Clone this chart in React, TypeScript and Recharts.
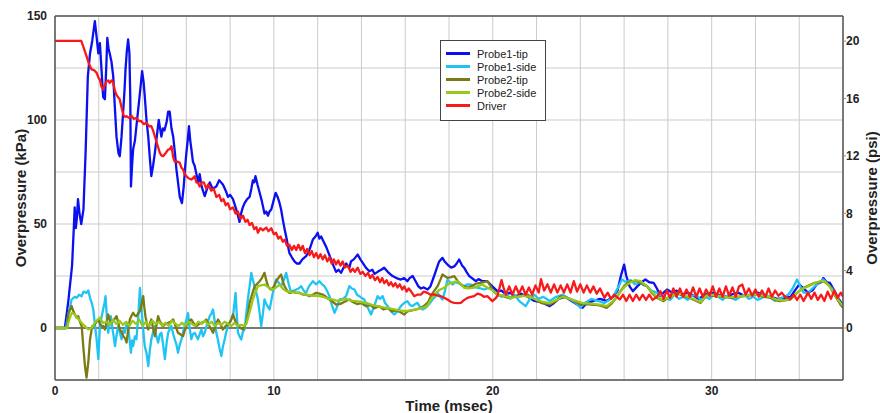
import React from "react";
import {
  LineChart,
  Line,
  XAxis,
  YAxis,
  CartesianGrid,
  ReferenceLine,
} from "recharts";

// 1 psi in kPa, used to line up the right-hand axis with the left one
const KPA_PER_PSI = 6.895;

const timeTicks = [0, 2, 4, 6, 8, 10, 12, 14, 16, 18, 20, 22, 24, 26, 28, 30, 32, 34, 36];
const timeLabels = [0, 10, 20, 30];
const kpaTicks = [-25, 0, 25, 50, 75, 100, 125, 150];
const kpaLabels = [0, 50, 100, 150];
const psiTicks = [0, 4, 8, 12, 16, 20];

// [time msec, overpressure kPa]
const probe1Tip: [number, number][] = [
  [0, 0], [0.45, 0], [0.55, 8], [0.62, 14], [0.7, 22], [0.78, 30], [0.85, 46], [0.9, 58], [0.95, 48],
  [1.0, 53], [1.05, 62], [1.12, 55], [1.2, 50], [1.3, 57], [1.4, 85], [1.5, 121], [1.6, 132], [1.7, 138],
  [1.82, 147.5], [1.9, 140], [1.98, 132], [2.05, 137], [2.12, 125], [2.2, 111], [2.28, 110], [2.34, 125],
  [2.39, 139.5], [2.45, 134], [2.5, 132], [2.58, 128], [2.66, 121], [2.74, 105], [2.81, 92], [2.9, 84],
  [2.96, 82.6], [3.04, 92], [3.12, 105], [3.18, 115], [3.22, 124], [3.28, 133], [3.34, 138.7], [3.4, 132],
  [3.44, 110], [3.47, 68], [3.52, 78], [3.57, 86], [3.65, 90], [3.72, 97], [3.8, 105], [3.9, 115],
  [3.98, 123.5], [4.05, 118], [4.1, 111.5], [4.18, 100], [4.26, 92], [4.33, 82], [4.4, 73], [4.48, 78],
  [4.56, 84], [4.65, 92], [4.74, 100], [4.8, 96], [4.86, 92], [4.93, 96], [5.0, 95], [5.1, 99], [5.17, 104],
  [5.24, 104], [5.32, 96], [5.4, 92], [5.48, 84], [5.55, 76], [5.62, 70], [5.7, 63], [5.8, 60], [5.88, 68],
  [5.95, 78], [6.0, 84], [6.06, 90], [6.12, 97], [6.18, 90], [6.23, 86], [6.3, 80], [6.38, 78], [6.46, 74],
  [6.55, 70], [6.61, 74], [6.7, 68], [6.84, 63.4], [6.95, 67], [7.07, 70], [7.2, 67], [7.37, 68], [7.5, 71],
  [7.67, 69], [7.8, 66], [7.9, 63], [8.0, 64], [8.13, 62], [8.28, 57], [8.36, 54], [8.43, 51], [8.5, 55],
  [8.58, 58], [8.66, 60], [8.78, 62], [8.89, 63], [8.97, 67], [9.04, 71], [9.1, 70], [9.16, 73], [9.25, 69],
  [9.35, 65], [9.45, 61], [9.57, 55], [9.65, 56], [9.73, 54], [9.8, 56], [9.88, 57], [9.98, 61], [10.08, 65],
  [10.17, 63], [10.26, 60], [10.33, 57], [10.41, 52], [10.5, 47], [10.59, 42.5], [10.65, 39], [10.71, 36],
  [10.82, 34], [10.94, 32], [11.05, 31], [11.17, 31], [11.3, 33], [11.47, 34.5], [11.6, 37], [11.7, 40],
  [11.78, 42.5], [11.9, 44], [12.0, 45.8], [12.08, 43], [12.16, 44], [12.25, 42], [12.39, 39], [12.5, 36],
  [12.61, 33], [12.72, 30], [12.84, 27], [12.95, 28], [13.07, 26.5], [13.18, 29], [13.3, 31], [13.45, 29],
  [13.52, 32], [13.65, 33], [13.83, 35.3], [13.95, 33], [14.06, 31.3], [14.2, 29], [14.36, 27.3], [14.5, 28],
  [14.6, 26], [14.74, 27], [14.9, 28], [15.04, 29], [15.2, 27], [15.3, 26], [15.42, 25], [15.6, 24],
  [15.8, 23.3], [15.95, 24], [16.1, 22.5], [16.2, 24], [16.34, 25], [16.5, 22], [16.6, 20], [16.72, 19],
  [16.85, 19.5], [17.02, 18.5], [17.15, 20], [17.32, 25], [17.45, 29], [17.55, 32], [17.7, 33.7], [17.8, 32],
  [17.93, 30.5], [18.1, 29], [18.24, 29.6], [18.35, 31], [18.46, 32.9], [18.6, 30], [18.69, 29], [18.8, 27],
  [18.92, 25], [19.05, 24], [19.22, 22.5], [19.35, 23.5], [19.53, 22.5], [19.75, 22.5], [19.98, 20],
  [20.21, 17.7], [20.4, 18], [20.6, 16], [20.8, 17], [21.0, 15], [21.3, 16.5], [21.6, 15], [21.9, 13],
  [22.2, 12.5], [22.6, 10.5], [22.8, 12], [23.0, 14], [23.3, 15], [23.6, 13], [23.9, 11], [24.1, 9.7],
  [24.3, 12], [24.6, 13], [24.9, 14], [25.2, 13], [25.5, 15], [25.7, 18], [25.85, 25], [26.0, 30.5],
  [26.1, 25], [26.25, 20], [26.4, 17.7], [26.6, 20], [26.8, 22], [26.97, 23.3], [27.15, 22], [27.35, 21.7],
  [27.5, 19], [27.66, 15.3], [27.8, 17], [27.96, 18.5], [28.2, 17], [28.4, 18], [28.6, 16], [28.9, 17],
  [29.1, 16], [29.4, 14], [29.7, 16], [30.0, 17], [30.3, 16], [30.6, 15], [30.9, 16], [31.2, 17],
  [31.5, 15.5], [31.8, 16], [32.1, 17], [32.4, 15.5], [32.7, 15], [33.0, 14], [33.3, 14.5], [33.6, 15],
  [33.8, 18], [34.0, 21], [34.2, 19], [34.4, 17], [34.6, 18], [34.8, 21], [35.0, 22], [35.1, 24],
  [35.25, 22], [35.4, 21.7], [35.6, 18], [35.8, 14], [36, 11],
];

const probe1Side: [number, number][] = [
  [0, 0], [0.5, 0], [0.6, 6], [0.76, 13.7], [0.9, 15], [0.99, 14.5], [1.1, 16], [1.22, 15.3], [1.3, 17.5],
  [1.44, 16.9], [1.52, 18], [1.6, 14.5], [1.68, 12], [1.75, 8.9], [1.82, 2], [1.9, -5.4], [1.98, -15],
  [2.05, 1], [2.12, 5], [2.2, 8.9], [2.26, 12], [2.31, 15.3], [2.37, 5], [2.43, -2.3], [2.5, 2], [2.55, 5.7],
  [2.62, 0], [2.68, -4], [2.74, -8.7], [2.82, -3], [2.89, 0.9], [2.96, -2], [3.04, -5.4], [3.12, -1],
  [3.19, -2.3], [3.27, 2], [3.34, 0.9], [3.4, -5], [3.47, -11.9], [3.52, -6], [3.57, -8.7], [3.65, -4],
  [3.72, -5.4], [3.8, 5], [3.88, 19.3], [3.93, 12], [3.98, 5.7], [4.04, -2], [4.1, -8.7], [4.18, -12],
  [4.26, -18.3], [4.33, -11], [4.4, -5.4], [4.48, -2], [4.56, 0.9], [4.63, -4], [4.71, -7], [4.79, -3],
  [4.86, -2.3], [4.94, -8], [5.02, -15], [5.1, -7], [5.17, -2.3], [5.25, -0.5], [5.32, 0.9], [5.4, -3],
  [5.47, -5.4], [5.55, -8], [5.62, -11.9], [5.7, -8], [5.78, -5.4], [5.85, -2], [5.93, 0.9], [6.0, 4],
  [6.08, 7.2], [6.15, 0], [6.23, -5.4], [6.3, -3], [6.38, -2.3], [6.46, -4], [6.53, -5.4], [6.61, -3],
  [6.69, -0.7], [6.76, -4], [6.84, -2.3], [6.95, 2], [7.07, 5.7], [7.15, 7], [7.22, 8.9], [7.3, 3],
  [7.37, -2.3], [7.45, -6], [7.52, -10], [7.6, -13.5], [7.67, -9], [7.75, -5.5], [7.82, -2], [7.9, 0.9],
  [8.0, 3], [8.13, 5.7], [8.19, 11], [8.25, 16.9], [8.3, 7], [8.36, -2.3], [8.43, -4], [8.51, -5.5],
  [8.58, -2], [8.66, -0.7], [8.73, 6], [8.81, 13.7], [8.89, 20], [8.97, 26.5], [9.04, 23], [9.12, 20.1],
  [9.2, 17], [9.27, 13.7], [9.35, 7], [9.42, 0.9], [9.5, 7], [9.57, 13.7], [9.68, 11], [9.8, 8.9], [9.88, 13],
  [9.95, 16.9], [10.03, 20], [10.1, 23.3], [10.2, 22], [10.33, 20.1], [10.45, 23], [10.56, 26.5], [10.68, 21],
  [10.79, 16.9], [10.9, 18], [11.02, 18.5], [11.13, 19], [11.25, 20.1], [11.36, 18], [11.47, 16.9], [11.6, 20],
  [11.78, 22.5], [11.93, 21], [12.08, 22.5], [12.2, 21], [12.31, 20.1], [12.42, 18], [12.54, 15.3], [12.65, 11],
  [12.77, 7.3], [12.88, 10], [13.0, 13.7], [13.15, 14], [13.3, 15.3], [13.38, 18], [13.45, 20.1], [13.56, 19],
  [13.68, 18.5], [13.8, 16], [13.9, 15.3], [14.0, 14.5], [14.13, 13.7], [14.28, 10], [14.44, 6.5], [14.6, 11],
  [14.74, 15.3], [14.85, 14], [14.97, 15.3], [15.08, 12], [15.2, 10.5], [15.35, 8], [15.5, 6.5], [15.65, 8],
  [15.8, 10.5], [15.95, 12], [16.1, 12.9], [16.22, 11], [16.34, 10.5], [16.45, 11.5], [16.56, 12.1], [16.68, 10],
  [16.79, 8.9], [16.9, 9.5], [17.02, 10.5], [17.13, 12], [17.25, 13.7], [17.37, 15], [17.48, 16.9], [17.6, 15],
  [17.7, 13.7], [17.82, 18], [17.93, 23.3], [18.05, 22], [18.16, 20.9], [18.28, 22], [18.39, 21.7], [18.54, 21],
  [18.69, 20.1], [18.84, 21], [19.0, 20.9], [19.15, 20], [19.3, 19.3], [19.45, 19], [19.6, 18.5], [19.75, 19],
  [19.9, 19.3], [20.05, 17.5], [20.2, 16.1], [20.4, 15], [20.6, 17], [20.8, 14], [21.0, 16], [21.2, 13],
  [21.5, 10.5], [21.7, 14], [21.9, 16], [22.1, 14], [22.3, 15], [22.6, 13], [22.9, 15], [23.2, 16], [23.5, 14],
  [23.8, 12], [24.0, 9.7], [24.2, 12], [24.5, 14], [24.8, 13], [25.1, 12], [25.4, 14], [25.6, 17], [25.75, 20],
  [25.9, 23.3], [26.1, 22], [26.3, 23], [26.5, 21], [26.7, 22], [26.9, 20.5], [27.05, 20.1], [27.25, 18],
  [27.5, 16.9], [27.7, 15.5], [27.9, 14.5], [28.1, 13.5], [28.3, 16], [28.5, 14], [28.7, 15], [28.9, 13.5],
  [29.1, 15.5], [29.3, 16], [29.5, 13.5], [29.7, 15], [29.9, 14], [30.1, 16], [30.3, 15], [30.5, 13.5],
  [30.7, 15.5], [30.9, 14.5], [31.1, 13.5], [31.3, 15], [31.5, 16], [31.7, 14], [31.9, 15], [32.1, 13.5],
  [32.3, 14.5], [32.5, 16], [32.7, 14.5], [32.9, 13], [33.1, 14], [33.3, 15], [33.5, 16], [33.7, 19],
  [33.9, 23.3], [34.05, 20], [34.2, 17], [34.4, 16.9], [34.6, 19], [34.8, 21], [35.0, 22.5], [35.1, 23.3],
  [35.3, 21], [35.5, 19], [35.7, 15], [35.9, 11], [36, 10],
];

const probe2Tip: [number, number][] = [
  [0, 0], [0.55, 0], [0.61, 7.2], [0.7, 9], [0.76, 10.5], [0.84, 8], [0.91, 6.5], [0.98, 5], [1.06, 5.7],
  [1.14, 3], [1.22, 0.9], [1.29, -8.7], [1.37, -18.3], [1.44, -23.9], [1.52, -16.7], [1.6, -5.4], [1.7, 0.9],
  [1.82, 1.7], [1.9, 3], [1.98, 4.1], [2.05, 2], [2.13, 0.9], [2.2, 1], [2.28, -0.7], [2.36, 3], [2.43, 6.5],
  [2.5, 4], [2.58, 2.5], [2.7, 4], [2.81, 5.7], [2.88, 3], [2.96, -0.7], [3.04, -2], [3.12, -3.9], [3.2, -5],
  [3.27, -7], [3.34, -1], [3.42, 4.1], [3.5, 6], [3.57, 7.3], [3.65, 6], [3.72, 5.7], [3.8, 7], [3.88, 8.1],
  [3.95, 11], [4.03, 15.3], [4.08, 10], [4.13, 5.7], [4.2, 2], [4.26, -0.7], [4.33, 2], [4.4, 4.1], [4.48, 0],
  [4.56, -3.9], [4.63, 1], [4.71, 5.7], [4.8, 3], [4.94, 0.9], [5.05, 2], [5.17, 2.5], [5.28, 3], [5.4, 4.1],
  [5.5, 1], [5.62, -2.3], [5.72, -3], [5.85, -3.9], [5.93, -1], [6.0, 0.9], [6.1, 3], [6.23, 4.1], [6.35, 2],
  [6.46, 0.9], [6.58, 2], [6.69, 2.5], [6.8, 3], [6.91, 4.1], [7.05, 1], [7.22, -2.3], [7.33, 1], [7.45, 4.1],
  [7.55, 2], [7.67, -0.7], [7.8, 1], [7.98, 2.5], [8.05, 4], [8.13, 6.5], [8.25, 3], [8.36, 0.9], [8.48, 0],
  [8.59, -0.7], [8.66, 1], [8.74, 2.5], [8.82, 7], [8.89, 12.1], [9.0, 16], [9.12, 20.1], [9.22, 21],
  [9.35, 22.5], [9.45, 24], [9.57, 26.5], [9.65, 23], [9.73, 20.1], [9.8, 19], [9.88, 18.5], [10.0, 20],
  [10.1, 22.5], [10.2, 24], [10.33, 25.7], [10.42, 22], [10.49, 20.1], [10.6, 18], [10.71, 16.9], [10.85, 17.5],
  [11.02, 16.9], [11.17, 17], [11.32, 16.1], [11.47, 16], [11.63, 15.3], [11.78, 16], [11.93, 16.9],
  [12.08, 16.5], [12.23, 16.1], [12.38, 15], [12.54, 13.7], [12.7, 12.5], [12.84, 11.3], [13.0, 11.5],
  [13.14, 12.1], [13.3, 13], [13.45, 13.7], [13.6, 12.5], [13.8, 11.5], [14.0, 12], [14.2, 10.5], [14.4, 11],
  [14.6, 9.5], [14.8, 10.5], [15.0, 9], [15.2, 9.5], [15.4, 8], [15.6, 8.5], [15.8, 7.5], [15.96, 6.5],
  [16.1, 8], [16.3, 8.5], [16.5, 9], [16.7, 9.5], [16.9, 11], [17.05, 12.5], [17.17, 15.3], [17.3, 17.5],
  [17.48, 20.1], [17.6, 23], [17.7, 25.7], [17.8, 25], [17.93, 24.1], [18.1, 24.5], [18.24, 24.9], [18.4, 22.5],
  [18.54, 20.9], [18.7, 20], [18.84, 19.3], [19.0, 20], [19.15, 20.9], [19.3, 21.5], [19.45, 21.7], [19.6, 22],
  [19.75, 22.5], [19.88, 20.5], [19.98, 18.5], [20.1, 17], [20.21, 16.1], [20.4, 15.5], [20.7, 14.5], [21.0, 15],
  [21.3, 15.3], [21.6, 16], [21.9, 14], [22.2, 12.1], [22.6, 11.3], [22.9, 13], [23.1, 15.3], [23.4, 14.5],
  [23.6, 13.7], [23.8, 12.5], [24.0, 11.3], [24.3, 11.5], [24.5, 11.3], [24.8, 11], [25.0, 10.5], [25.2, 9.7],
  [25.45, 12], [25.7, 15.3], [25.85, 18], [26.0, 20.1], [26.15, 21.5], [26.3, 22.5], [26.6, 22.5], [26.8, 21.5],
  [27.05, 20.1], [27.25, 17], [27.5, 14.5], [27.8, 12.9], [28.0, 14.5], [28.2, 15.5], [28.4, 16.9], [28.7, 15.5],
  [29.0, 14.5], [29.2, 13.5], [29.5, 12.1], [29.8, 16.1], [30.0, 15.5], [30.3, 15.3], [30.6, 14.8], [30.9, 14.5],
  [31.2, 15], [31.5, 15.3], [31.8, 15.8], [32.1, 16.1], [32.4, 15], [32.7, 14.5], [32.9, 13.5], [33.1, 12.9],
  [33.3, 13.3], [33.6, 13.7], [33.9, 16.9], [34.2, 19.3], [34.45, 20.5], [34.7, 21.7], [34.9, 22], [35.1, 22.5],
  [35.25, 21.5], [35.4, 20.1], [35.55, 17], [35.7, 14.5], [35.85, 12], [36, 9.7],
];

const probe2Side: [number, number][] = [
  [0, 0], [0.55, 0], [0.65, 4], [0.76, 7.2], [0.85, 7], [0.91, 6.5], [1.0, 5], [1.1, 4], [1.22, 2.5],
  [1.35, 1], [1.52, -0.7], [1.67, 0], [1.82, 2.5], [1.95, 4], [2.05, 4.9], [2.2, 2.5], [2.35, 3], [2.5, 1.5],
  [2.65, 4], [2.8, 2], [2.95, 3.5], [3.1, 1.5], [3.25, 3], [3.4, 1], [3.55, 3.5], [3.7, 2], [3.85, 4], [4.0, 1],
  [4.15, 3], [4.3, 1], [4.45, 3.5], [4.6, 2], [4.75, 3], [4.9, 1], [5.05, 2.5], [5.2, 1], [5.35, 3.5], [5.5, 2],
  [5.65, 1], [5.8, 2.5], [5.95, 1], [6.1, 3], [6.25, 2], [6.4, 1], [6.55, 3], [6.7, 2], [6.85, 3.5], [7.0, 1.5],
  [7.15, 3], [7.3, 1], [7.45, 2.5], [7.6, 1.5], [7.75, 3], [7.9, 2], [8.05, 1], [8.2, 2.5], [8.35, 1],
  [8.5, 1.5], [8.65, 1], [8.74, 2], [8.85, 6], [8.95, 10], [9.04, 13.7], [9.15, 17], [9.27, 20.1], [9.4, 20.5],
  [9.57, 20.9], [9.75, 19.5], [9.95, 18.5], [10.1, 19.5], [10.26, 20.9], [10.4, 19], [10.56, 17.7], [10.8, 17.2],
  [11.02, 17], [11.25, 16.5], [11.5, 16], [11.75, 15.5], [12.0, 15.5], [12.25, 15], [12.5, 14], [12.69, 13.7],
  [12.9, 13], [13.1, 13.5], [13.3, 14], [13.5, 13.2], [13.75, 12.9], [14.0, 12.5], [14.25, 12], [14.5, 11],
  [14.75, 10.5], [15.0, 9.9], [15.25, 9.5], [15.5, 9], [15.75, 8.5], [16.0, 8.1], [16.25, 8.5], [16.5, 8.9],
  [16.75, 9.5], [17.0, 10.5], [17.17, 13.7], [17.35, 16], [17.48, 17.7], [17.6, 18.5], [17.78, 19.3], [17.95, 21],
  [18.08, 21.7], [18.2, 22], [18.39, 22.5], [18.55, 21], [18.69, 19.3], [18.9, 19], [19.1, 19.3], [19.3, 20],
  [19.5, 20.9], [19.75, 19.5], [20.0, 18], [20.21, 16.1], [20.5, 15.5], [20.8, 14.5], [21.1, 15], [21.4, 15.5],
  [21.7, 15], [22.0, 13.5], [22.3, 12.5], [22.6, 12], [22.9, 13.5], [23.2, 15], [23.5, 14], [23.8, 13], [24.1, 12],
  [24.4, 11.8], [24.7, 11.5], [25.0, 11], [25.2, 10.5], [25.45, 12.5], [25.7, 15.5], [25.9, 18.5], [26.1, 20.5],
  [26.3, 22], [26.5, 23], [26.75, 22.5], [27.0, 20.5], [27.25, 17.5], [27.5, 15], [27.75, 13.5], [28.0, 14.5],
  [28.3, 16], [28.6, 16.5], [28.9, 15], [29.2, 13.8], [29.5, 12.5], [29.75, 15.5], [30.0, 16], [30.3, 15.5],
  [30.6, 15], [30.9, 14.8], [31.2, 15], [31.5, 15.5], [31.8, 16], [32.1, 16.2], [32.4, 15.5], [32.7, 14.8],
  [33.0, 13.5], [33.3, 13.2], [33.6, 14], [33.85, 16.5], [34.1, 18.5], [34.4, 20], [34.7, 21.5], [34.95, 22.5],
  [35.15, 22.5], [35.35, 20.5], [35.55, 17.5], [35.75, 14], [36, 10.5],
];

const driver: [number, number][] = [
  [0, 138], [0.5, 138], [1.0, 138], [1.2, 138], [1.3, 135], [1.44, 130.7], [1.55, 127], [1.67, 124.3],
  [1.78, 124], [1.9, 122.7], [2.0, 120], [2.05, 119.5], [2.12, 116], [2.2, 114.7], [2.28, 117], [2.36, 118.7],
  [2.43, 119], [2.5, 117.9], [2.58, 119], [2.66, 117.9], [2.74, 114], [2.81, 112], [2.88, 111], [2.96, 109.9],
  [3.04, 106], [3.12, 102.6], [3.2, 101.5], [3.27, 101.8], [3.38, 101], [3.5, 102], [3.6, 100.5], [3.72, 101],
  [3.83, 99.5], [3.95, 99.4], [4.05, 98], [4.18, 98.6], [4.3, 97], [4.4, 97], [4.48, 95], [4.56, 92.2],
  [4.68, 88], [4.79, 84.2], [4.86, 83], [4.94, 82.6], [5.05, 84], [5.17, 85.8], [5.25, 86], [5.32, 87.4],
  [5.4, 82], [5.47, 80], [5.58, 80], [5.7, 79.4], [5.78, 77], [5.85, 76.2], [5.93, 74], [6.0, 73], [6.1, 72],
  [6.23, 71.4], [6.3, 72], [6.38, 73], [6.46, 70], [6.53, 69.8], [6.61, 68], [6.69, 70], [6.8, 70], [6.91, 67],
  [7.0, 69], [7.14, 66], [7.25, 67], [7.37, 63], [7.5, 64], [7.6, 61], [7.7, 62], [7.8, 59], [7.9, 60], [8.0, 57],
  [8.13, 58], [8.25, 55], [8.36, 56], [8.48, 52.5], [8.59, 54], [8.7, 51], [8.8, 52], [8.89, 49.5], [9.0, 50.5],
  [9.1, 47.5], [9.2, 48.5], [9.27, 45.8], [9.38, 48], [9.5, 47], [9.65, 48.3], [9.75, 46.5], [9.88, 48],
  [10.0, 45], [10.1, 45.8], [10.2, 43], [10.3, 44], [10.41, 41.5], [10.5, 42.5], [10.6, 39.5], [10.71, 40],
  [10.82, 37.5], [10.92, 39.5], [11.02, 37.5], [11.12, 40], [11.22, 37.5], [11.32, 39.5], [11.42, 36],
  [11.52, 38], [11.63, 35], [11.73, 37], [11.83, 34], [11.93, 36], [12.03, 33.5], [12.13, 35.5], [12.23, 33],
  [12.33, 35], [12.44, 32], [12.54, 34], [12.64, 31], [12.74, 33], [12.84, 30.5], [12.94, 32.5], [13.04, 30],
  [13.14, 32], [13.24, 29], [13.37, 30], [13.5, 27], [13.6, 28.5], [13.7, 27], [13.83, 29], [13.95, 26],
  [14.06, 27], [14.18, 25], [14.3, 26.5], [14.4, 24], [14.5, 25.5], [14.62, 23], [14.74, 24.5], [14.85, 22],
  [14.95, 24], [15.04, 21.5], [15.15, 23], [15.25, 20.5], [15.35, 22], [15.45, 20], [15.55, 21.5], [15.65, 19.5],
  [15.75, 21], [15.86, 18.5], [15.96, 20], [16.06, 17.5], [16.16, 19], [16.26, 17.7], [16.41, 15.3], [16.55, 16],
  [16.72, 16.1], [16.85, 17.5], [17.02, 16.9], [17.15, 16], [17.32, 16.1], [17.5, 15.5], [17.63, 15.3],
  [17.78, 14.5], [17.93, 13.7], [18.1, 12.5], [18.24, 12.1], [18.4, 12], [18.54, 12.1], [18.7, 13.5],
  [18.84, 14.5], [19.0, 15], [19.15, 15.3], [19.3, 16.5], [19.45, 16.1], [19.6, 15], [19.75, 15.3], [19.88, 14],
  [19.98, 12.9], [20.1, 14], [20.21, 15.3], [20.3, 19], [20.4, 23], [20.5, 19], [20.6, 16], [20.75, 20],
  [20.9, 16], [21.05, 20], [21.2, 16.5], [21.35, 20], [21.5, 16], [21.65, 19.5], [21.8, 16], [21.95, 20.5],
  [22.1, 17], [22.2, 23.5], [22.35, 18], [22.5, 21], [22.65, 17], [22.8, 21], [22.95, 17], [23.1, 20.5],
  [23.25, 17], [23.4, 21], [23.55, 17], [23.7, 22.5], [23.85, 17.5], [24.0, 21], [24.15, 17], [24.3, 20.5],
  [24.45, 17], [24.6, 20], [24.75, 16.5], [24.9, 19], [25.1, 14.5], [25.25, 17], [25.4, 14], [25.55, 16],
  [25.8, 13.7], [25.95, 16], [26.1, 13], [26.25, 16], [26.4, 13], [26.55, 16], [26.7, 13.5], [26.85, 16],
  [27.0, 13.5], [27.15, 16], [27.3, 13.5], [27.5, 15], [27.66, 17.7], [27.8, 14], [27.95, 18], [28.1, 14.5],
  [28.25, 19], [28.4, 15], [28.55, 19], [28.7, 15], [28.85, 18.5], [29.0, 15], [29.15, 19.5], [29.3, 15],
  [29.45, 19], [29.6, 15], [29.75, 18.5], [29.9, 15.5], [30.05, 20], [30.2, 15], [30.35, 19], [30.5, 15],
  [30.65, 20], [30.8, 15.5], [30.95, 19.5], [31.1, 15], [31.25, 20], [31.4, 20.9], [31.55, 16], [31.7, 19],
  [31.85, 15.5], [32.0, 18.5], [32.15, 15], [32.3, 18], [32.45, 15], [32.6, 19], [32.75, 15], [32.9, 18],
  [33.05, 15.5], [33.2, 17], [33.35, 15], [33.6, 14], [33.75, 16], [33.9, 13.5], [34.05, 16], [34.2, 13],
  [34.4, 17], [34.55, 14], [34.7, 17], [34.85, 13.5], [35.0, 16], [35.15, 13], [35.3, 17.5], [35.45, 14],
  [35.6, 18], [35.75, 14.5], [35.9, 17], [36, 15],
];

const series = [
  { name: "Probe1-tip", color: "#0a10f0", points: probe1Tip },
  { name: "Probe1-side", color: "#20c4f4", points: probe1Side },
  { name: "Probe2-tip", color: "#7c7a12", points: probe2Tip },
  { name: "Probe2-side", color: "#98c81c", points: probe2Side },
  { name: "Driver", color: "#f81a1a", points: driver },
];

const FONT = '"Liberation Sans", Arial, sans-serif';
const FRAME = "#555";
const tickStyle = { fontSize: 12, fontWeight: 700, fill: "#222", fontFamily: FONT };
const titleStyle = { fontSize: 15, fontWeight: 700, fill: "#222", fontFamily: FONT };

function VerticalTitle({ viewBox, text, dx }: any) {
  const cx = viewBox.x + dx;
  const cy = viewBox.y + viewBox.height / 2;
  return (
    <text
      x={cx}
      y={cy}
      transform={`rotate(-90 ${cx} ${cy})`}
      textAnchor="middle"
      dominantBaseline="central"
      style={titleStyle}
    >
      {text}
    </text>
  );
}

function TimeTitle({ viewBox }: any) {
  return (
    <text x={viewBox.x + viewBox.width / 2} y={viewBox.y + 31} textAnchor="middle" style={titleStyle}>
      Time (msec)
    </text>
  );
}

// legend box sits inside the plot, near the top middle
function LegendBox() {
  return (
    <div
      style={{
        position: "absolute",
        left: 440,
        top: 40,
        border: "1.5px solid #444",
        background: "#fff",
        width: 99,
        padding: "6px 0 8px 5px",
        fontFamily: FONT,
        fontSize: 11,
        color: "#222",
      }}
    >
      {series.map((s) => (
        <div key={s.name} style={{ display: "flex", alignItems: "center", height: 13 }}>
          <span
            style={{ display: "inline-block", width: 24, height: 3, background: s.color, marginRight: 7 }}
          />
          {s.name}
        </div>
      ))}
    </div>
  );
}

export default function App() {
  return (
    <div style={{ position: "absolute", left: 0, top: 0, width: 880, height: 413, background: "#fff" }}>
      <LineChart width={880} height={413} margin={{ top: 16, right: 0, bottom: 0, left: 0 }}>
        <CartesianGrid yAxisId="kpa" stroke="#cbcbcb" strokeWidth={1} />
        <XAxis
          dataKey="t"
          type="number"
          domain={[0, 36]}
          ticks={timeTicks}
          allowDataOverflow
          height={33}
          tick={tickStyle}
          tickLine={false}
          tickSize={0}
          tickMargin={6}
          axisLine={{ stroke: FRAME, strokeWidth: 1.5 }}
          tickFormatter={(v: number) => (timeLabels.includes(v) ? String(v) : "")}
          label={<TimeTitle />}
        />
        <YAxis
          yAxisId="kpa"
          type="number"
          domain={[-25, 150]}
          ticks={kpaTicks}
          allowDataOverflow
          width={55}
          tick={tickStyle}
          tickLine={false}
          tickMargin={2}
          axisLine={{ stroke: FRAME, strokeWidth: 1.5 }}
          tickFormatter={(v: number) => (kpaLabels.includes(v) ? String(v) : "")}
          label={<VerticalTitle text="Overpressure (kPa)" dx={20} />}
        />
        <YAxis
          yAxisId="psi"
          orientation="right"
          type="number"
          domain={[-25 / KPA_PER_PSI, 150 / KPA_PER_PSI]}
          ticks={psiTicks}
          allowDataOverflow
          width={37}
          tick={tickStyle}
          tickLine={{ stroke: "#888" }}
          tickSize={3}
          tickMargin={0}
          axisLine={{ stroke: FRAME, strokeWidth: 1.5 }}
          label={<VerticalTitle text="Overpressure (psi)" dx={28} />}
        />
        <ReferenceLine yAxisId="kpa" y={150} stroke={FRAME} strokeWidth={1.5} />
        <ReferenceLine yAxisId="kpa" y={0} stroke={FRAME} strokeWidth={1.5} />
        {series.map((s) => (
          <Line
            key={s.name}
            yAxisId="kpa"
            name={s.name}
            data={s.points.map(([t, v]) => ({ t, v }))}
            dataKey="v"
            stroke={s.color}
            strokeWidth={2.3}
            strokeLinejoin="round"
            dot={false}
            activeDot={false}
            isAnimationActive={false}
          />
        ))}
      </LineChart>
      <LegendBox />
    </div>
  );
}
